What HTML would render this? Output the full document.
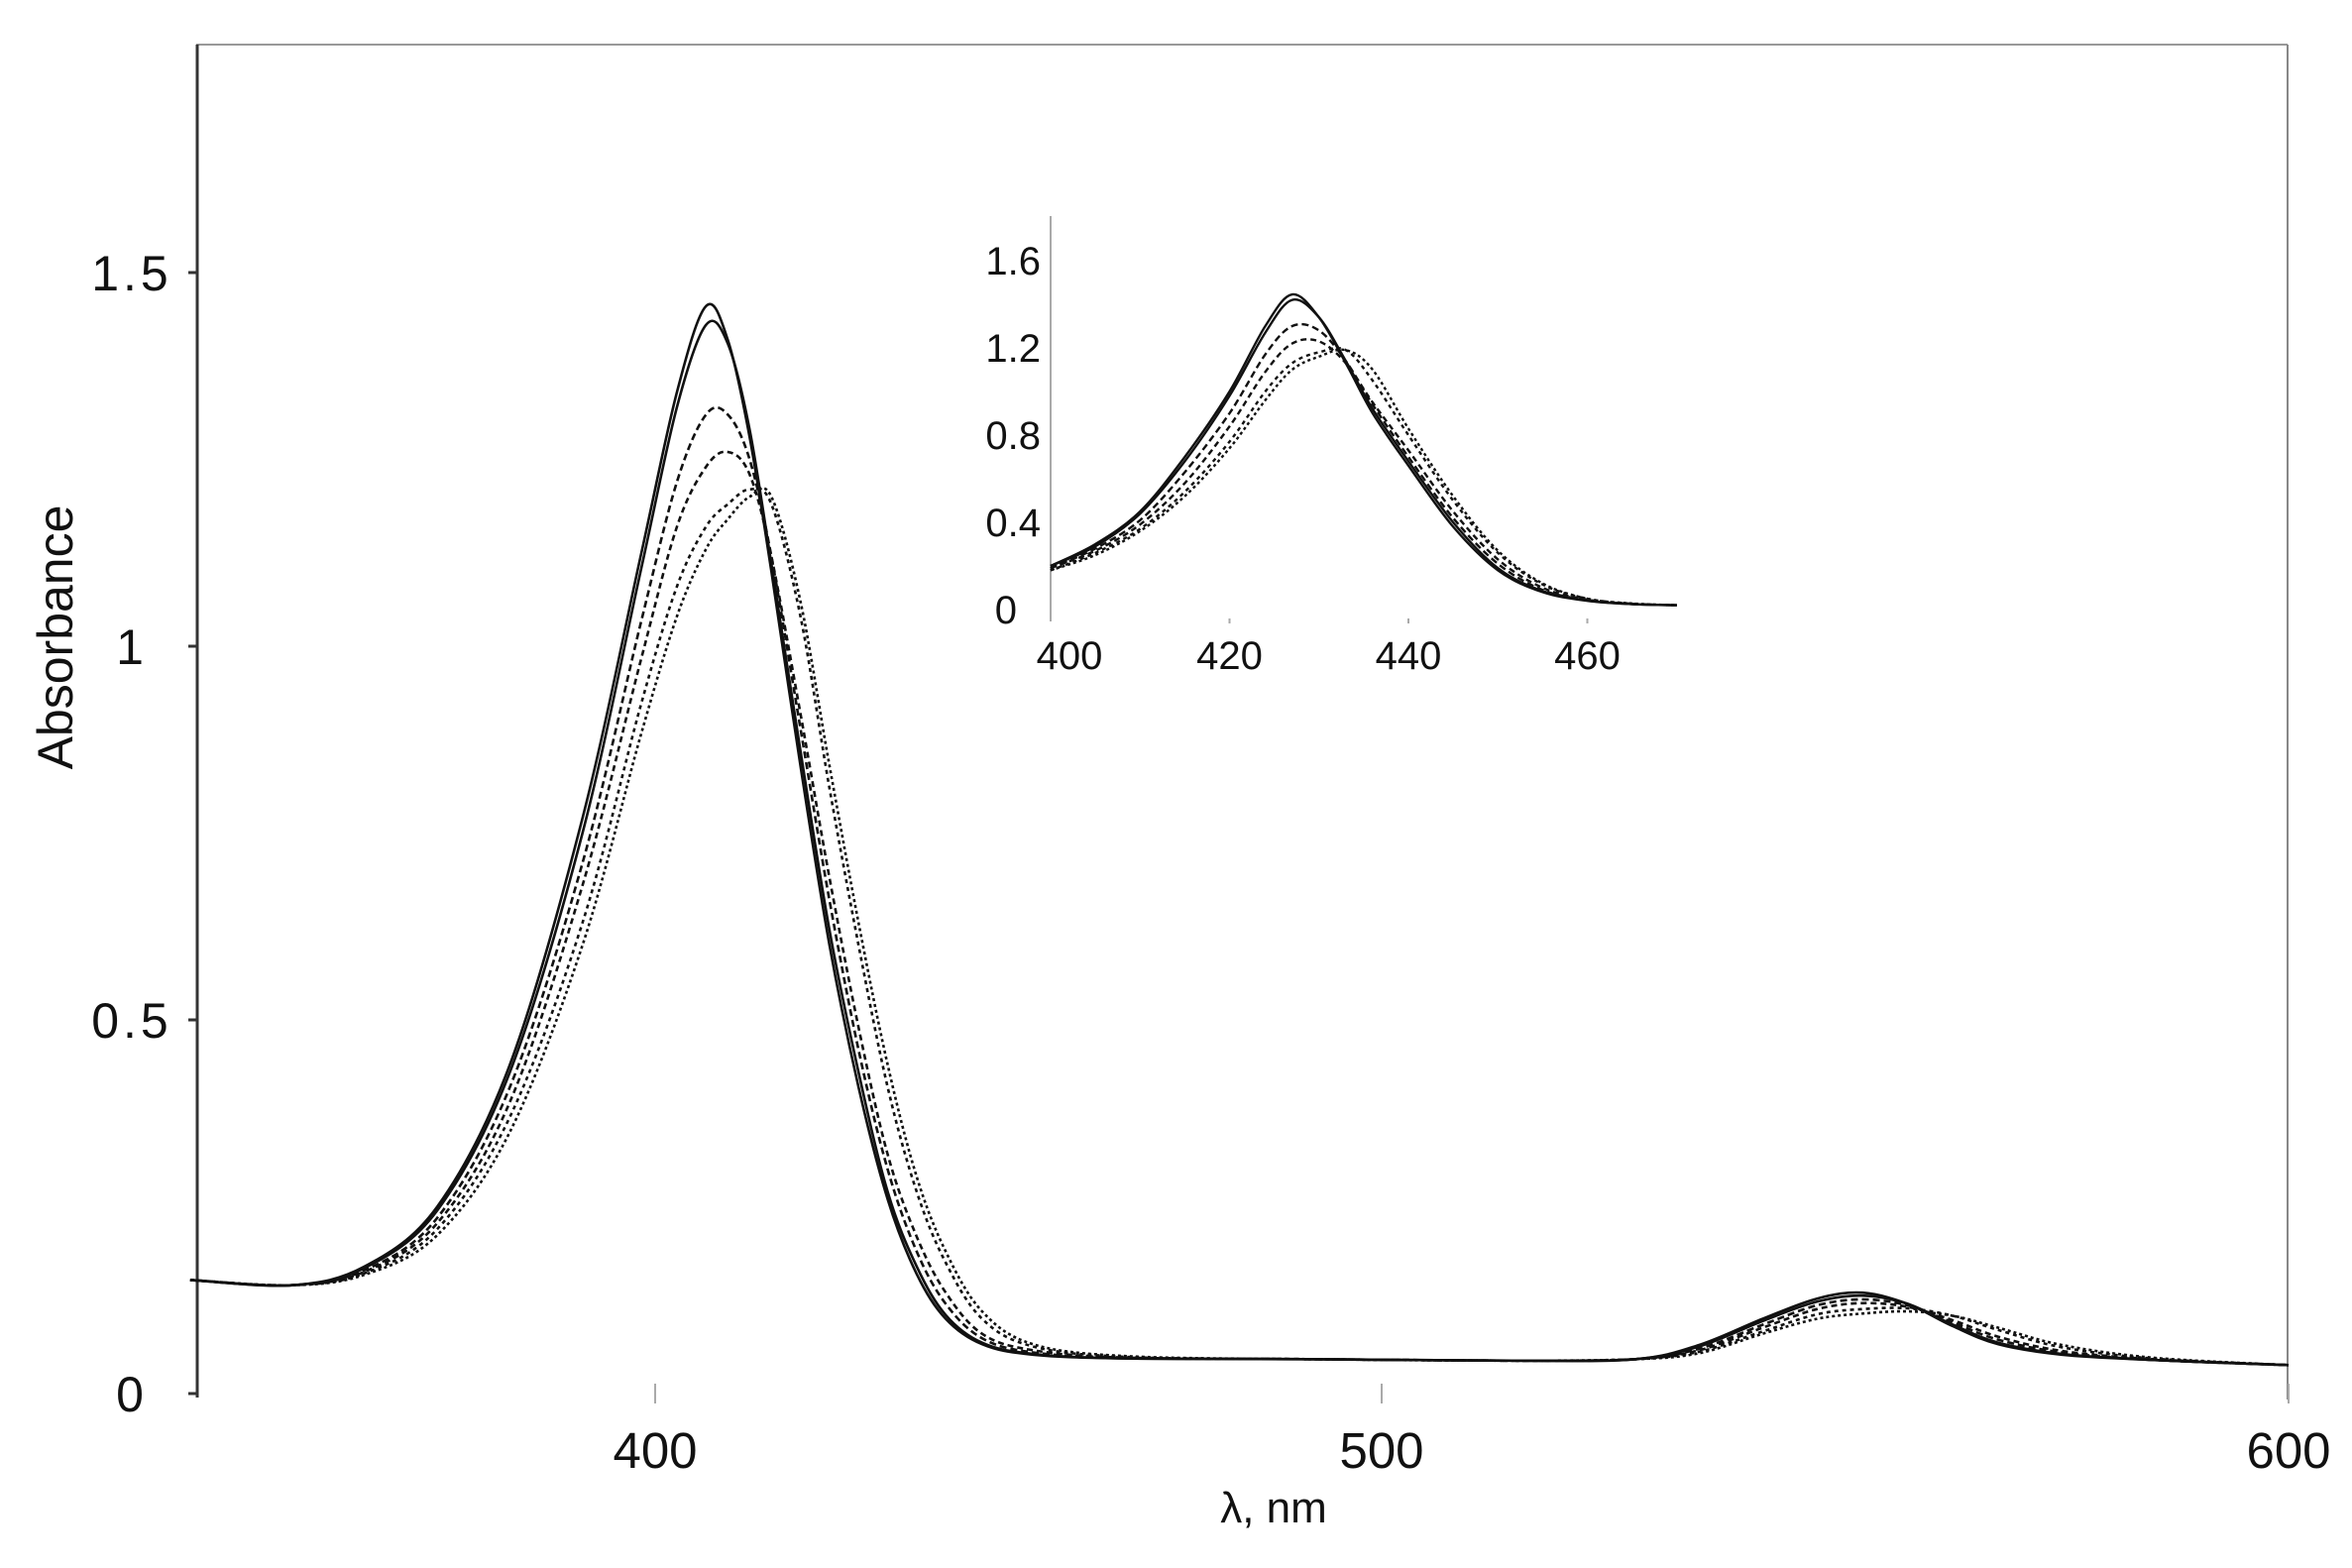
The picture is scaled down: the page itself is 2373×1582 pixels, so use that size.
<!DOCTYPE html>
<html><head><meta charset="utf-8"><style>
html,body{margin:0;padding:0;background:#fff}
svg{display:block}
text{font-family:"Liberation Sans",sans-serif;fill:#111}
</style></head><body>
<svg id="chart" width="2373" height="1582" viewBox="0 0 2373 1582" xmlns="http://www.w3.org/2000/svg">
<rect x="0" y="0" width="2373" height="1582" fill="#fff"/>
<line x1="198" y1="45" x2="2308" y2="45" stroke="#999" stroke-width="2"/>
<line x1="2308" y1="45" x2="2308" y2="1412" stroke="#888" stroke-width="2"/>
<line x1="199" y1="45" x2="199" y2="1410" stroke="#333" stroke-width="3"/>
<text x="60" y="643" font-size="50" text-anchor="middle" transform="rotate(-90 60 643)" dominant-baseline="middle">Absorbance</text>
<text x="1285" y="1536" font-size="44" text-anchor="middle">λ, nm</text>
<g id="mainAxes"></g>
<g id="mainSeries"></g>
<line x1="1060" y1="218" x2="1060" y2="627" stroke="#aaa" stroke-width="2"/>
<g id="insetAxes"></g>
<g id="insetSeries"></g>
</svg>
<script>
const mainWavelengths=[336,350,360,370,380,390,398,403,407,410,413,416,420,424,428,432,436,440,445,452,465,490,515,528,535,542,548,553,558,563,568,575,585,600];
const mainA=[0.152,0.145,0.17,0.25,0.44,0.77,1.12,1.34,1.455,1.41,1.28,1.1,0.84,0.6,0.41,0.26,0.16,0.1,0.066,0.052,0.047,0.046,0.044,0.046,0.065,0.1,0.127,0.135,0.12,0.09,0.066,0.052,0.045,0.038];
const mainB=[0.152,0.145,0.168,0.245,0.43,0.75,1.1,1.32,1.43,1.405,1.29,1.11,0.86,0.62,0.43,0.27,0.17,0.105,0.068,0.053,0.047,0.046,0.044,0.046,0.063,0.097,0.123,0.131,0.12,0.092,0.068,0.053,0.045,0.038];
const mainC=[0.152,0.145,0.165,0.235,0.41,0.71,1.03,1.22,1.31,1.31,1.25,1.12,0.89,0.66,0.46,0.3,0.19,0.12,0.074,0.055,0.048,0.046,0.044,0.046,0.06,0.092,0.118,0.126,0.118,0.095,0.072,0.055,0.045,0.038];
const mainD=[0.152,0.145,0.163,0.228,0.39,0.68,0.98,1.16,1.24,1.26,1.23,1.12,0.91,0.69,0.49,0.32,0.21,0.135,0.08,0.058,0.048,0.046,0.044,0.046,0.058,0.088,0.113,0.121,0.116,0.098,0.076,0.057,0.046,0.038];
const mainE=[0.152,0.145,0.161,0.22,0.37,0.63,0.92,1.08,1.16,1.19,1.21,1.19,1.04,0.81,0.6,0.41,0.27,0.175,0.1,0.063,0.049,0.046,0.044,0.046,0.056,0.083,0.106,0.113,0.114,0.104,0.085,0.062,0.047,0.038];
const mainF=[0.152,0.145,0.159,0.212,0.35,0.6,0.88,1.04,1.13,1.17,1.2,1.2,1.06,0.84,0.63,0.44,0.29,0.19,0.11,0.066,0.05,0.046,0.044,0.046,0.054,0.08,0.1,0.107,0.11,0.104,0.088,0.065,0.048,0.038];
const mainXTicks=[400,500,600];
const mainYTicks=[0,0.5,1,1.5];
const mainYTickLabels=["0","0.5","1","1.5"];

const insetWavelengths=[400,405,410,415,420,424,427,430,433,436,440,445,450,455,460,465,470];
const insetA=[0.2,0.3,0.45,0.7,1.0,1.3,1.445,1.34,1.13,0.9,0.66,0.38,0.18,0.08,0.04,0.025,0.02];
const insetB=[0.2,0.29,0.44,0.68,0.98,1.27,1.42,1.34,1.14,0.92,0.68,0.4,0.19,0.085,0.042,0.025,0.02];
const insetC=[0.19,0.28,0.41,0.63,0.9,1.17,1.3,1.28,1.14,0.94,0.7,0.42,0.21,0.09,0.044,0.026,0.02];
const insetD=[0.19,0.27,0.39,0.58,0.84,1.09,1.22,1.23,1.13,0.95,0.73,0.45,0.23,0.1,0.046,0.026,0.02];
const insetE=[0.18,0.26,0.37,0.54,0.77,1.0,1.13,1.18,1.19,1.05,0.8,0.5,0.26,0.115,0.05,0.027,0.02];
const insetF=[0.18,0.25,0.36,0.52,0.74,0.96,1.1,1.16,1.19,1.1,0.83,0.52,0.27,0.12,0.05,0.028,0.02];
const insetXTicks=[400,420,440,460];
const insetYTicks=[0,0.4,0.8,1.2,1.6];
const insetYTickLabels=["0","0.4","0.8","1.2","1.6"];

const NS="http://www.w3.org/2000/svg";
function mx(v){ if(v<=500) return 661+(v-400)*7.33; return 1394+(v-500)*9.15; }
function my(v){ return 1406-v*754; }
function ix(v){ return 1060+(v-400)*9.025; }
function iy(v){ return 615-v*220; }
function mk(tag,attrs,parent){const e=document.createElementNS(NS,tag);for(const k in attrs)e.setAttribute(k,attrs[k]);parent.appendChild(e);return e;}
function smoothPath(xs,ys,fx,fy){
  const p=xs.map((x,i)=>[fx(x),fy(ys[i])]);
  let d="M"+p[0][0].toFixed(1)+","+p[0][1].toFixed(1);
  for(let i=0;i<p.length-1;i++){
    const p0=p[i-1]||p[i],p1=p[i],p2=p[i+1],p3=p[i+2]||p2;
    const c1=[p1[0]+(p2[0]-p0[0])/6,p1[1]+(p2[1]-p0[1])/6];
    const c2=[p2[0]-(p3[0]-p1[0])/6,p2[1]-(p3[1]-p1[1])/6];
    d+="C"+c1[0].toFixed(1)+","+c1[1].toFixed(1)+" "+c2[0].toFixed(1)+","+c2[1].toFixed(1)+" "+p2[0].toFixed(1)+","+p2[1].toFixed(1);
  }
  return d;
}
const dashes=["","","7 4","6 4","4 4","3 3"];
const mAx=document.getElementById("mainAxes");
mainXTicks.forEach(t=>{
  const l=mk("line",{x1:mx(t),y1:1396,x2:mx(t),y2:1416,stroke:"#aaa","stroke-width":2},mAx);
  
  
  const tx=mk("text",{x:mx(t),y:1481,"font-size":51,"text-anchor":"middle"},mAx);
  tx.textContent=t;
  
  
});
mainYTicks.forEach((t,i)=>{
  const l=mk("line",{x1:190,y1:my(t),x2:199,y2:my(t),stroke:"#333","stroke-width":3},mAx);
  
  
  const tx=mk("text",{x:133,y:my(t)+18,"font-size":50,"text-anchor":"middle","letter-spacing":"4"},mAx);
  tx.textContent=mainYTickLabels[i];
  
  
});
const mS=document.getElementById("mainSeries");
[mainA,mainB,mainC,mainD,mainE,mainF].forEach((s,i)=>{
  const p=mk("path",{d:smoothPath(mainWavelengths,s,mx,my),fill:"none",stroke:"#111","stroke-width":2.6,"stroke-dasharray":dashes[i]},mS);
  
  
});
const iAx=document.getElementById("insetAxes");
insetXTicks.forEach(t=>{
  if(t>400){const l=mk("line",{x1:ix(t),y1:624,x2:ix(t),y2:629,stroke:"#aaa","stroke-width":2},iAx);
  
  }
  const tx=mk("text",{x:t===400?ix(t)+19:ix(t),y:675,"font-size":40,"text-anchor":"middle"},iAx);
  tx.textContent=t;
  
  
});
insetYTicks.forEach((t,i)=>{
  const tx=mk("text",{x:t===0?1026:1050,y:iy(t)+14,"font-size":40,"text-anchor":"end"},iAx);
  tx.textContent=insetYTickLabels[i];
  
  
});
const iS=document.getElementById("insetSeries");
[insetA,insetB,insetC,insetD,insetE,insetF].forEach((s,i)=>{
  const p=mk("path",{d:smoothPath(insetWavelengths,s,ix,iy),fill:"none",stroke:"#111","stroke-width":2.4,"stroke-dasharray":dashes[i]},iS);
  
  
});
</script>
</body></html>
